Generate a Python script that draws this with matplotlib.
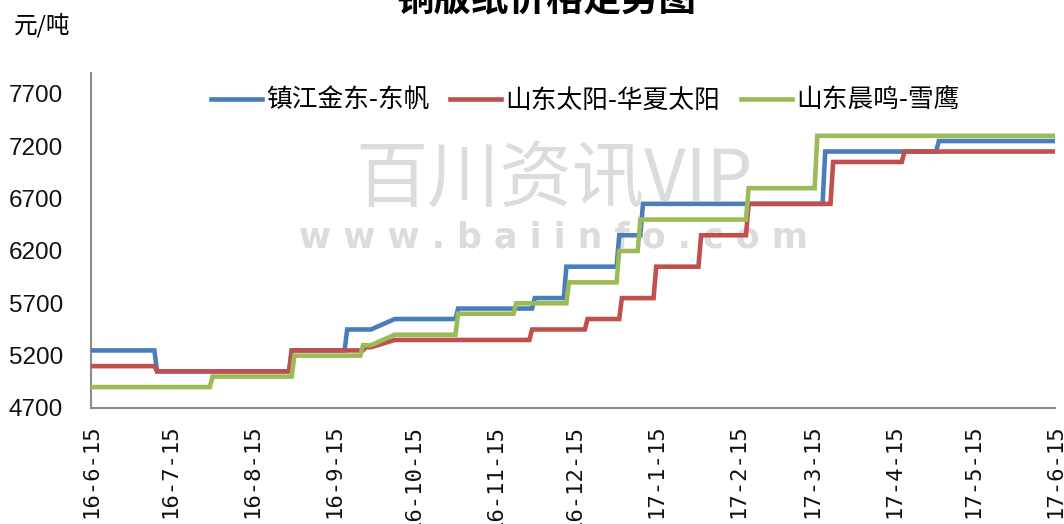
import matplotlib
matplotlib.use("Agg")
import matplotlib.pyplot as plt
import pandas as pd

plt.rcParams['font.family'] = ['Noto Sans CJK SC', 'DejaVu Sans']

title = "铜版纸价格走势图"
unit_label = "元/吨"
series_names = ["镇江金东-东帆", "山东太阳-华夏太阳", "山东晨鸣-雪鹰"]
colors = ["#4A7EBB", "#C0504D", "#9BBB59"]

blue_dates = ["2016-06-15", "2016-07-09", "2016-07-10", "2016-08-29", "2016-08-30",
              "2016-09-19", "2016-09-20", "2016-09-29", "2016-10-08", "2016-10-31",
              "2016-11-01", "2016-11-29", "2016-11-30", "2016-12-11", "2016-12-12",
              "2016-12-31", "2017-01-01", "2017-01-09", "2017-01-10", "2017-03-19",
              "2017-03-20", "2017-05-01", "2017-05-02", "2017-06-15"]
blue_values = [5250, 5250, 5050, 5050, 5250,
               5250, 5450, 5450, 5550, 5550,
               5650, 5650, 5750, 5750, 6050,
               6050, 6350, 6350, 6650, 6650,
               7150, 7150, 7250, 7250]

red_dates = ["2016-06-15", "2016-07-09", "2016-07-10", "2016-08-29", "2016-08-30",
             "2016-09-26", "2016-09-27", "2016-09-29", "2016-10-08", "2016-11-28",
             "2016-11-29", "2016-12-19", "2016-12-20", "2017-01-01", "2017-01-02",
             "2017-01-14", "2017-01-15", "2017-01-31", "2017-02-01", "2017-02-18",
             "2017-02-19", "2017-03-22", "2017-03-23", "2017-04-18", "2017-04-19",
             "2017-06-15"]
red_values = [5100, 5100, 5050, 5050, 5250,
              5250, 5280, 5280, 5350, 5350,
              5450, 5450, 5550, 5550, 5750,
              5750, 6050, 6050, 6350, 6350,
              6650, 6650, 7050, 7050, 7150,
              7150]

green_dates = ["2016-06-15", "2016-07-30", "2016-07-31", "2016-08-30", "2016-08-31",
               "2016-09-25", "2016-09-26", "2016-09-29", "2016-10-08", "2016-10-31",
               "2016-11-01", "2016-11-22", "2016-11-23", "2016-12-12", "2016-12-13",
               "2016-12-31", "2017-01-01", "2017-01-08", "2017-01-09", "2017-02-18",
               "2017-02-19", "2017-03-16", "2017-03-17", "2017-06-15"]
green_values = [4900, 4900, 5000, 5000, 5200,
                5200, 5300, 5300, 5400, 5400,
                5600, 5600, 5700, 5700, 5900,
                5900, 6200, 6200, 6500, 6500,
                6800, 6800, 7300, 7300]

tick_dates = ["2016-06-15", "2016-07-15", "2016-08-15", "2016-09-15", "2016-10-15",
              "2016-11-15", "2016-12-15", "2017-01-15", "2017-02-15", "2017-03-15",
              "2017-04-15", "2017-05-15", "2017-06-15"]
tick_labels = ["16-6-15", "16-7-15", "16-8-15", "16-9-15", "16-10-15", "16-11-15",
               "16-12-15", "17-1-15", "17-2-15", "17-3-15", "17-4-15", "17-5-15", "17-6-15"]
y_ticks = [4700, 5200, 5700, 6200, 6700, 7200, 7700]

W, H = 1064, 524
fig = plt.figure(figsize=(W / 100, H / 100), dpi=100)
ax = fig.add_axes([91 / W, 1 - 408 / H, (1055 - 91) / W, (408 - 73) / H])

# watermark
ax.text(0.48, 0.68, "百川资讯VIP", transform=ax.transAxes, ha='center', va='center',
        fontsize=52, color='#dcdcdc', zorder=0)
ax.text(0.48, 0.51, "w w w . b a i i n f o . c o m", transform=ax.transAxes,
        ha='center', va='center', fontsize=25, fontweight='bold', color='#dcdcdc',
        family=['DejaVu Sans'], zorder=0)

all_series = [(blue_dates, blue_values), (red_dates, red_values), (green_dates, green_values)]
for (d, v), name, c in zip(all_series, series_names, colors):
    ax.plot(pd.to_datetime(d), v, color=c, lw=3.3, label=name, solid_joinstyle='miter', zorder=3)

ax.set_xlim(pd.Timestamp("2016-06-15"), pd.Timestamp("2017-06-15"))
ax.set_ylim(4700, 7900)
ax.set_yticks(y_ticks)
ax.set_yticklabels([str(v) for v in y_ticks], family=['Liberation Sans'],
                   fontsize=17.5, color='#111111')
ax.set_xticks(pd.to_datetime(tick_dates))
ax.set_xticklabels(tick_labels, rotation=90, family=['DejaVu Sans Mono'], fontsize=16,
                   va='top', ha='center', color='#111111')
ax.tick_params(axis='y', length=0, pad=20)
ax.tick_params(axis='x', length=0, pad=12)

for s in ['top', 'right']:
    ax.spines[s].set_visible(False)
for s in ['left', 'bottom']:
    ax.spines[s].set_color('#8c8c8c')
    ax.spines[s].set_linewidth(1.5)

fig.text(546 / W, 1.0, title, ha='center', va='center', fontsize=27, fontweight='bold')
fig.text(42 / W, 1 - 25 / H, unit_label, ha='center', va='center', fontsize=17)

leg = fig.legend(loc='center', bbox_to_anchor=(585 / W, 1 - 101 / H), ncol=3, frameon=False,
                 fontsize=18.5, handlelength=2.0, handletextpad=0.15, columnspacing=0.8)

fig.savefig("out.png", dpi=100)
